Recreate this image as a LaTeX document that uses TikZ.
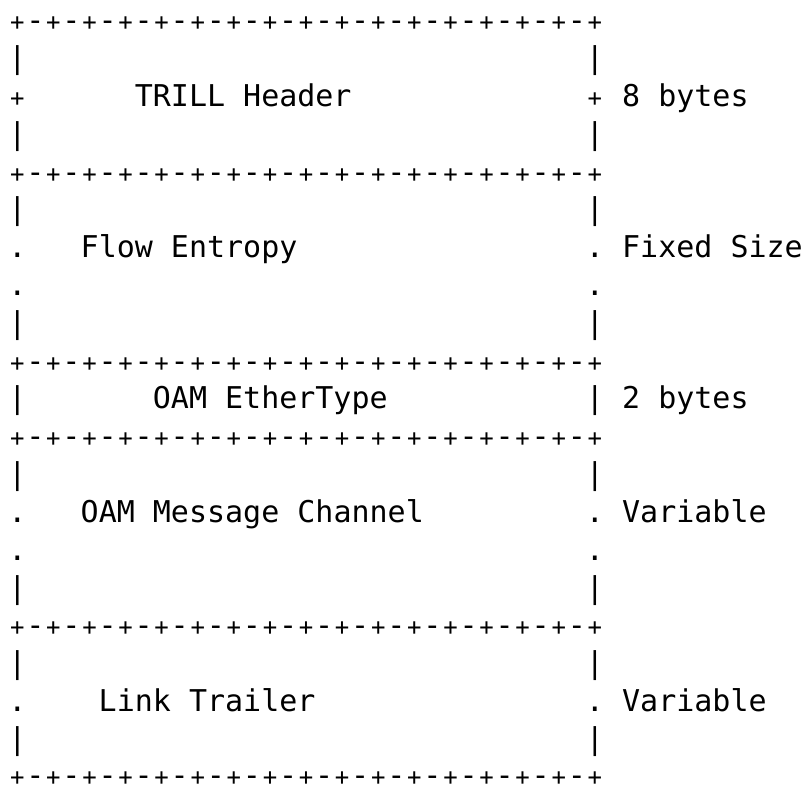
\documentclass[tikz,border=0pt]{standalone}
\usepackage{fontspec}
\setmonofont{DejaVu Sans Mono}

\begin{document}
\begin{tikzpicture}[x=18.05pt, y=-37.83pt,
  every node/.style={inner sep=0pt, font=\ttfamily\fontsize{30}{36}\selectfont},
  glyph/.style={anchor=base}, field/.style={anchor=base west},
  pluschar/.style={glyph, scale=0.8}]

  \useasboundingbox (-0.46,-0.8115) rectangle (44.03,20.0);

  % border rows
  \foreach \r in {0,4,9,11,16,19.95} {
    \foreach \c in {0,2,...,32} \node[pluschar] at (\c+0.5,\r) {+};
    \foreach \c in {1,3,...,31} \node[glyph] at (\c+0.5,\r) {-};
  }

  % side walls
  \foreach \r/\s in {1/|,3/|,5/|,6/.,7/.,8/|,10/|,12/|,13/.,14/.,15/|,17/|,18/.,19/|} {
    \node[glyph] at (0.5,\r) {\s};
    \node[glyph] at (32.5,\r) {\s};
  }
  \node[pluschar] at (0.5,2) {+};
  \node[pluschar] at (32.5,2) {+};

  \node[field] (trill)   at (7,2)  {TRILL Header};
  \node[field] (trillsz) at (34,2) {8 bytes};

  \node[field] (flow)    at (4,6)  {Flow Entropy};
  \node[field] (flowsz)  at (34,6) {Fixed Size};

  \node[field] (ethtype) at (8,10)  {OAM EtherType};
  \node[field] (ethsz)   at (34,10) {2 bytes};

  \node[field] (msgch)   at (4,13)  {OAM Message Channel};
  \node[field] (msgsz)   at (34,13) {Variable};

  \node[field] (trailer) at (5,18)  {Link Trailer};
  \node[field] (trailsz) at (34,18) {Variable};
\end{tikzpicture}
\end{document}
